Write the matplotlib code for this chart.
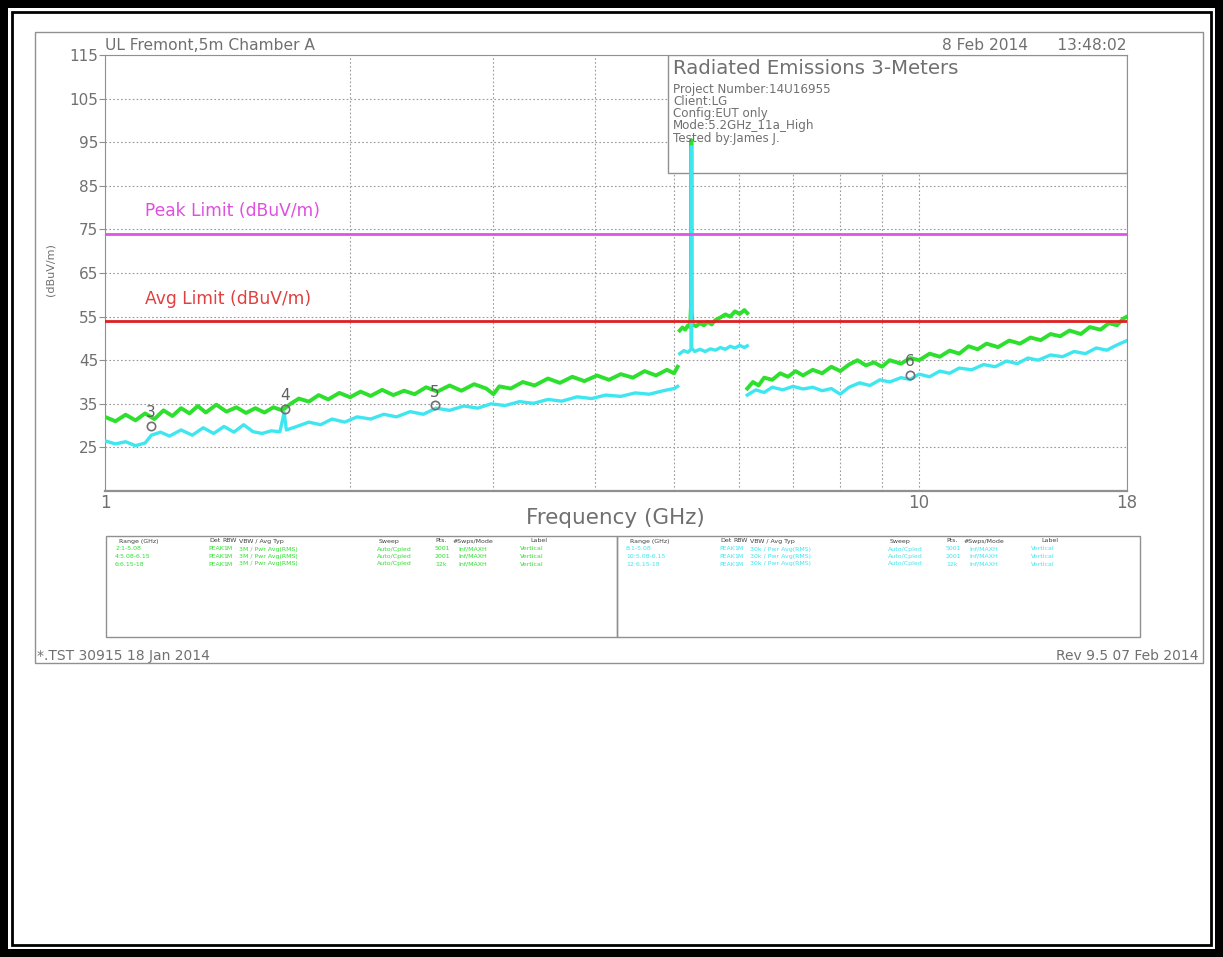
import matplotlib
matplotlib.use("Agg")
import matplotlib.pyplot as plt
from matplotlib.patches import Rectangle

W, H = 1223, 957

# Límites (dBuV/m)
peak_limit = 74
avg_limit = 54

# Traza PEAK (verde), tramo 1-5.08 GHz
peak_f1 = [1.00, 1.03, 1.06, 1.09, 1.12, 1.15, 1.18, 1.21, 1.24, 1.27, 1.30, 1.33, 1.37,
           1.41, 1.45, 1.49, 1.53, 1.57, 1.61, 1.65, 1.69, 1.73, 1.78, 1.83, 1.88, 1.94,
           2.00, 2.06, 2.12, 2.19, 2.26, 2.33, 2.40, 2.48, 2.56, 2.65, 2.74, 2.84, 2.94,
           3.00, 3.05, 3.15, 3.26, 3.37, 3.50, 3.62, 3.75, 3.88, 4.02, 4.16, 4.30, 4.45,
           4.60, 4.75, 4.90, 5.00, 5.05]
peak_db1 = [32.0, 31.0, 32.5, 31.2, 32.8, 31.5, 33.5, 32.2, 34.0, 32.8, 34.5, 33.0, 34.8,
            33.2, 34.2, 32.9, 34.0, 33.0, 34.2, 33.5, 35.0, 36.2, 35.5, 37.0, 36.0, 37.5,
            36.5, 37.8, 36.8, 38.2, 37.0, 38.0, 37.2, 38.8, 37.8, 39.2, 38.0, 39.5, 38.5,
            37.2, 39.0, 38.5, 40.0, 39.2, 40.8, 39.8, 41.2, 40.2, 41.5, 40.5, 41.8, 41.0,
            42.5, 41.5, 42.8, 42.0, 43.5]

# Traza PEAK, tramo 5.08-6.15 GHz
peak_f2 = [5.08, 5.12, 5.16, 5.20, 5.23, 5.245, 5.25, 5.255, 5.27, 5.32, 5.38, 5.44,
           5.50, 5.56, 5.62, 5.70, 5.78, 5.86, 5.94, 6.02, 6.10, 6.15]
peak_db2 = [51.8, 52.5, 52.0, 53.0, 52.6, 57.5, 95.5, 56.0, 53.2, 52.8, 53.5, 53.0,
            53.8, 53.2, 54.2, 54.8, 55.5, 55.0, 56.2, 55.6, 56.5, 55.8]

# Traza PEAK, tramo 6.15-18 GHz
peak_f3 = [6.15, 6.25, 6.35, 6.45, 6.6, 6.75, 6.9, 7.05, 7.2, 7.4, 7.6, 7.8, 8.0, 8.2,
           8.4, 8.6, 8.8, 9.0, 9.2, 9.5, 9.75, 10.0, 10.3, 10.6, 10.9, 11.2, 11.5, 11.8,
           12.1, 12.5, 12.9, 13.3, 13.7, 14.1, 14.5, 14.9, 15.3, 15.8, 16.2, 16.7, 17.1,
           17.5, 17.8, 18.0]
peak_db3 = [38.5, 40.0, 39.2, 41.0, 40.5, 42.0, 41.2, 42.5, 41.5, 42.8, 42.0, 43.5, 42.5,
            44.0, 45.0, 43.8, 44.5, 43.5, 45.0, 44.2, 45.5, 45.0, 46.5, 45.8, 47.2, 46.5,
            48.2, 47.5, 48.8, 48.0, 49.5, 48.8, 50.2, 49.6, 51.0, 50.5, 51.8, 51.0, 52.6,
            52.0, 53.5, 53.0, 54.5, 55.0]

# Traza AVG (cian), tramo 1-5.08 GHz
avg_f1 = [1.00, 1.03, 1.06, 1.09, 1.12, 1.14, 1.17, 1.20, 1.24, 1.28, 1.32, 1.36, 1.40,
          1.44, 1.48, 1.52, 1.56, 1.60, 1.64, 1.66, 1.67, 1.72, 1.78, 1.84, 1.90, 1.97,
          2.04, 2.12, 2.20, 2.28, 2.37, 2.46, 2.55, 2.65, 2.76, 2.87, 2.98, 3.10, 3.23,
          3.36, 3.50, 3.64, 3.80, 3.96, 4.12, 4.30, 4.48, 4.66, 4.85, 5.00, 5.05]
avg_db1 = [26.5, 25.8, 26.3, 25.4, 26.0, 27.8, 28.5, 27.6, 29.0, 27.8, 29.5, 28.2, 29.8,
           28.5, 30.2, 28.6, 28.2, 28.8, 28.6, 33.0, 29.0, 29.8, 30.8, 30.2, 31.5, 30.8,
           32.0, 31.5, 32.6, 32.0, 33.2, 32.6, 34.0, 33.5, 34.5, 34.0, 35.0, 34.6, 35.5,
           35.1, 36.0, 35.6, 36.6, 36.2, 37.0, 36.7, 37.5, 37.2, 38.0, 38.5, 39.0]

# Traza AVG, tramo 5.08-6.15 GHz
avg_f2 = [5.08, 5.14, 5.20, 5.245, 5.25, 5.255, 5.30, 5.38, 5.46, 5.54, 5.62, 5.70,
          5.78, 5.86, 5.94, 6.02, 6.10, 6.15]
avg_db2 = [46.5, 47.2, 46.8, 47.5, 94.0, 47.8, 47.0, 47.5, 47.0, 47.6, 47.3, 47.9,
           47.5, 48.2, 47.8, 48.4, 47.9, 48.3]

# Traza AVG, tramo 6.15-18 GHz
avg_f3 = [6.15, 6.3, 6.45, 6.6, 6.8, 7.0, 7.2, 7.4, 7.6, 7.8, 8.0, 8.2, 8.45, 8.7, 8.95,
          9.2, 9.5, 9.75, 10.0, 10.3, 10.6, 10.9, 11.2, 11.6, 12.0, 12.4, 12.8, 13.2,
          13.6, 14.0, 14.5, 15.0, 15.5, 16.0, 16.5, 17.0, 17.5, 18.0]
avg_db3 = [37.0, 38.2, 37.6, 38.8, 38.2, 39.0, 38.4, 38.8, 38.0, 38.5, 37.2, 38.8, 39.8,
           39.2, 40.5, 40.0, 41.0, 40.6, 41.8, 41.2, 42.5, 42.0, 43.2, 42.8, 44.0, 43.5,
           44.8, 44.2, 45.5, 45.0, 46.2, 45.8, 47.0, 46.5, 47.8, 47.3, 48.5, 49.5]

# Marcadores
marker_labels = ["3", "4", "5", "6"]
marker_f = [1.139, 1.664, 2.54, 9.75]
marker_db = [29.8, 33.9, 34.7, 41.6]
marker_text_db = [33.0, 36.8, 37.7, 44.8]

# Tabla de barridos
rows_peak = ["2:1-5.08", "4:5.08-6.15", "6:6.15-18"]
rows_avg = ["8:1-5.08", "10:5.08-6.15", "12:6.15-18"]
rows_pts = ["5001", "2001", "12k"]
vbw_peak = "3M / Pwr Avg(RMS)"
vbw_avg = "30k / Pwr Avg(RMS)"

info_lines = ["Project Number:14U16955", "Client:LG", "Config:EUT only",
              "Mode:5.2GHz_11a_High", "Tested by:James J."]

GREEN = "#2ee02e"
CYAN = "#3ee6f0"
GRAY = "#707070"
NARROW = ["Liberation Sans Narrow", "DejaVu Sans"]


def fx(x):
    return x / W


def fy(y):
    return 1 - y / H


fig = plt.figure(figsize=(W / 100, H / 100), dpi=100)
fig.patch.set_facecolor("white")

# Marco negro exterior
for (x0, y0, w, h) in [(0, 0, W, 8), (0, H - 8, W, 8), (0, 0, 8, H), (W - 8, 0, 8, H)]:
    fig.add_artist(Rectangle((fx(x0), fy(y0 + h)), w / W, h / H, transform=fig.transFigure,
                             facecolor="black", edgecolor="none"))
fig.add_artist(Rectangle((fx(12), fy(945)), (1211 - 12) / W, (945 - 12) / H,
                         transform=fig.transFigure, fill=False, edgecolor="black", lw=2))
# Página gris
fig.add_artist(Rectangle((fx(35), fy(663)), (1203 - 35) / W, (663 - 32) / H,
                         transform=fig.transFigure, fill=False, edgecolor="#909090", lw=1))

ax = fig.add_axes([fx(105), fy(491), (1127 - 105) / W, (491 - 55) / H])
ax.set_xscale("log")
ax.set_xlim(1, 18)
ax.set_ylim(15, 115)

for f, d in [(peak_f1, peak_db1), (peak_f2, peak_db2), (peak_f3, peak_db3)]:
    ax.plot(f, d, color=GREEN, lw=2.8, zorder=6)
for f, d in [(avg_f1, avg_db1), (avg_f2, avg_db2), (avg_f3, avg_db3)]:
    ax.plot(f, d, color=CYAN, lw=2.4, zorder=6.5)

ax.axhline(peak_limit, color="#dd55e6", lw=2, zorder=7)
ax.axhline(avg_limit, color="#dd2020", lw=2, zorder=7)
ax.text(1.12, peak_limit + 4, "Peak Limit (dBuV/m)", color="#e050e0", fontsize=12.3)
ax.text(1.12, avg_limit + 4, "Avg Limit (dBuV/m)", color="#e04040", fontsize=12.3)

for lab, f, d, td in zip(marker_labels, marker_f, marker_db, marker_text_db):
    ax.plot(f, d, marker="o", ms=6, mfc="none", mec="#707070", mew=1.2, zorder=8)
    ax.text(f, td, lab, color="#606060", fontsize=11, ha="center", va="center", zorder=8)

ax.set_yticks(range(25, 116, 10))
ax.set_xticks([1, 10, 18])
ax.set_xticklabels(["1", "10", "18"])
ax.set_xticks([2, 3, 4, 5, 6, 7, 8, 9], minor=True)
ax.tick_params(axis="x", which="both", length=0, labelsize=12, labelcolor=GRAY, pad=2)
ax.tick_params(axis="y", length=4, color="#909090", labelsize=11, labelcolor=GRAY, pad=1)
ax.grid(True, which="both", axis="x", color="#9a9a9a", ls=(0, (1.5, 2)), lw=0.8)
ax.grid(True, which="major", axis="y", color="#9a9a9a", ls=(0, (1.5, 2)), lw=0.8)
for s in ax.spines.values():
    s.set_color("#909090")
ax.spines["bottom"].set_linewidth(1.6)
fig.text(fx(615), fy(518), "Frequency (GHz)", fontsize=15.5, color=GRAY,
         ha="center", va="center")
fig.text(fx(50), fy(270), "(dBuV/m)", rotation=90, fontsize=8, color=GRAY,
         ha="center", va="center")

# Recuadro de información
ax.add_patch(Rectangle((0.551, 0.729), 0.449, 0.271, transform=ax.transAxes,
                       facecolor="white", edgecolor="#909090", lw=1, zorder=5))
fig.text(fx(673), fy(68), "Radiated Emissions 3-Meters", fontsize=14.2, color=GRAY,
         va="center", zorder=6)
for i, line in enumerate(info_lines):
    fig.text(fx(673), fy(89 + 12.3 * i), line, fontsize=8.6, color=GRAY, va="center",
             zorder=6)

# Cabeceras
fig.text(fx(105), fy(45), "UL Fremont,5m Chamber A", fontsize=11.2, color=GRAY, va="center")
fig.text(fx(1127), fy(45), "8 Feb 2014      13:48:02", fontsize=11.2, color=GRAY,
         ha="right", va="center")
fig.text(fx(37), fy(656), "*.TST 30915 18 Jan 2014", fontsize=10, color=GRAY, va="center")
fig.text(fx(1198), fy(656), "Rev 9.5 07 Feb 2014", fontsize=10, color=GRAY, ha="right",
         va="center")

# Tablas
for x0, x1 in [(106, 617), (617, 1140)]:
    fig.add_artist(Rectangle((fx(x0), fy(637)), (x1 - x0) / W, (637 - 536) / H,
                             transform=fig.transFigure, fill=False, edgecolor="#909090", lw=1))

headers = [("Range (GHz)", 13), ("Det", 103), ("RBW", 116), ("VBW / Avg Typ", 133),
           ("Sweep", 273), ("Pts.", 329), ("#Swps/Mode", 347), ("Label", 424)]
for x0, rows, vbw, col in [(106, rows_peak, vbw_peak, GREEN), (617, rows_avg, vbw_avg, CYAN)]:
    for txt, off in headers:
        fig.text(fx(x0 + off), fy(541), txt, fontsize=4.5, color="#404040", va="center",
                 family=NARROW)
    for i, r in enumerate(rows):
        y = fy(549 + 7.5 * i)
        cells = [(r, 9), ("PEAK", 102), ("1M", 117), (vbw, 133), ("Auto/Cpled", 271),
                 (rows_pts[i], 329), ("Inf/MAXH", 352), ("Vertical", 414)]
        for txt, off in cells:
            fig.text(fx(x0 + off), y, txt, fontsize=4.5, color=col, va="center",
                     family=NARROW)

fig.savefig("out.png", dpi=100)
